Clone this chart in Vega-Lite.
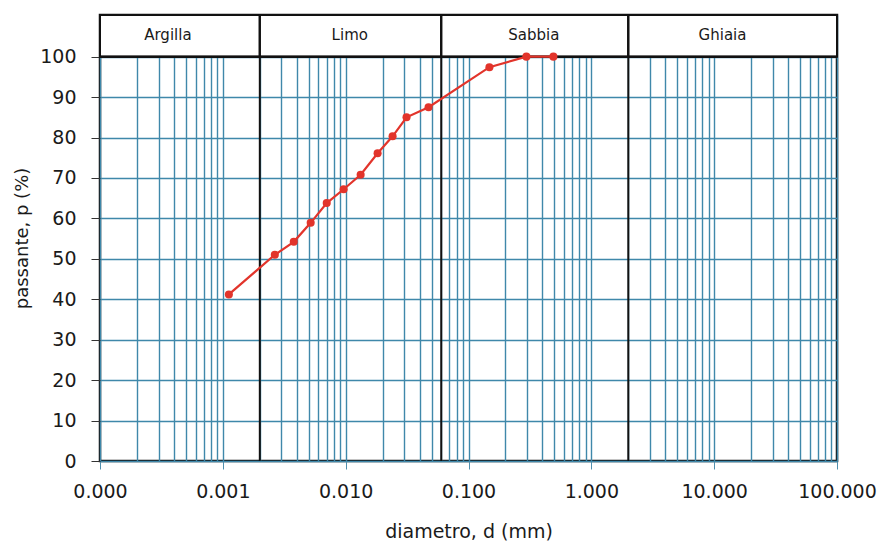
{
  "$schema": "https://vega.github.io/schema/vega-lite/v6.json",
  "width": 737,
  "height": 446,
  "autosize": {"type": "none"},
  "padding": {"left": 100, "top": 15, "right": 48, "bottom": 81},
  "background": "white",
  "config": {
    "font": "DejaVu Sans",
    "view": {"stroke": "#111111", "strokeWidth": 2.5},
    "axis": {"labelColor": "#1a1a1a", "titleColor": "#1a1a1a", "titleFontWeight": "normal", "domain": false}
  },
  "datasets": {
    "curve": [
      {"d": 0.00112, "p": 41.2},
      {"d": 0.00265, "p": 51.0},
      {"d": 0.00378, "p": 54.2},
      {"d": 0.00519, "p": 58.9},
      {"d": 0.00701, "p": 63.8},
      {"d": 0.00963, "p": 67.2},
      {"d": 0.01324, "p": 70.8},
      {"d": 0.0182, "p": 76.1},
      {"d": 0.0241, "p": 80.3},
      {"d": 0.0313, "p": 85.0},
      {"d": 0.0473, "p": 87.5},
      {"d": 0.148, "p": 97.4},
      {"d": 0.296, "p": 100},
      {"d": 0.491, "p": 100}
    ],
    "zones": [
      {"zone": "Argilla", "from": 0.0001, "to": 0.002, "labelX": 0.000357},
      {"zone": "Limo", "from": 0.002, "to": 0.06, "labelX": 0.0108},
      {"zone": "Sabbia", "from": 0.06, "to": 2, "labelX": 0.34},
      {"zone": "Ghiaia", "from": 2, "to": 100, "labelX": 11.7}
    ],
    "bounds": [{"b": 0.002}, {"b": 0.06}, {"b": 2}]
  },
  "layer": [
    {
      "data": {"name": "zones"},
      "mark": {"type": "rect", "fill": "white", "stroke": "#111111", "strokeWidth": 2},
      "encoding": {
        "x": {"field": "from", "type": "quantitative", "scale": {"type": "log", "domain": [0.0001, 100], "nice": false},
          "axis": {
            "values": [0.0001,0.0002,0.0003,0.0004,0.0005,0.0006,0.0007,0.0008,0.0009,0.001,0.002,0.003,0.004,0.005,0.006,0.007,0.008,0.009,0.01,0.02,0.03,0.04,0.05,0.06,0.07,0.08,0.09,0.1,0.2,0.3,0.4,0.5,0.6,0.7,0.8,0.9,1,2,3,4,5,6,7,8,9,10,20,30,40,50,60,70,80,90,100],
            "labelExpr": "abs(log(datum.value)/LN10 - round(log(datum.value)/LN10)) < 0.000001 ? format(datum.value, '.3f') : ''",
            "labelOverlap": false,
            "labelFlush": false,
            "labelFontSize": 19,
            "labelPadding": 13,
            "tickSize": 8,
            "tickColor": "#4f8fae",
            "tickOpacity": {"condition": {"test": "abs(log(datum.value)/LN10 - round(log(datum.value)/LN10)) < 0.000001", "value": 1}, "value": 0},
            "grid": true,
            "gridColor": "#3f88aa",
            "gridWidth": 1.4,
            "title": "diametro, d (mm)",
            "titleFontSize": 19,
            "titlePadding": 21
          }
        },
        "x2": {"field": "to"},
        "y": {"datum": 100, "type": "quantitative", "scale": {"domain": [0, 110.3], "nice": false, "zero": false},
          "axis": {
            "values": [0,10,20,30,40,50,60,70,80,90,100],
            "labelFontSize": 19,
            "labelPadding": 15,
            "tickSize": 9,
            "tickColor": "#333333",
            "grid": true,
            "gridColor": "#3f88aa",
            "gridWidth": 1.4,
            "title": "passante, p (%)",
            "titleFontSize": 18,
            "titlePadding": 8
          }
        },
        "y2": {"datum": 110.3}
      }
    },
    {
      "data": {"name": "bounds"},
      "mark": {"type": "rule", "color": "#111111", "strokeWidth": 2},
      "encoding": {
        "x": {"field": "b", "type": "quantitative"},
        "y": {"datum": 0, "type": "quantitative"},
        "y2": {"datum": 110.3}
      }
    },
    {
      "data": {"values": [{}]},
      "mark": {"type": "rule", "color": "#111111", "strokeWidth": 2.5},
      "encoding": {
        "y": {"datum": 100, "type": "quantitative"}
      }
    },
    {
      "data": {"name": "curve"},
      "mark": {"type": "line", "color": "#e2342b", "strokeWidth": 2.2},
      "encoding": {
        "x": {"field": "d", "type": "quantitative"},
        "y": {"field": "p", "type": "quantitative"}
      }
    },
    {
      "data": {"name": "curve"},
      "mark": {"type": "point", "filled": true, "color": "#e2342b", "size": 65, "opacity": 1},
      "encoding": {
        "x": {"field": "d", "type": "quantitative"},
        "y": {"field": "p", "type": "quantitative"}
      }
    },
    {
      "data": {"name": "zones"},
      "mark": {"type": "text", "fontSize": 15, "color": "#1a1a1a", "baseline": "middle", "align": "center"},
      "encoding": {
        "x": {"field": "labelX", "type": "quantitative"},
        "y": {"datum": 105.3, "type": "quantitative"},
        "text": {"field": "zone"}
      }
    }
  ]
}
